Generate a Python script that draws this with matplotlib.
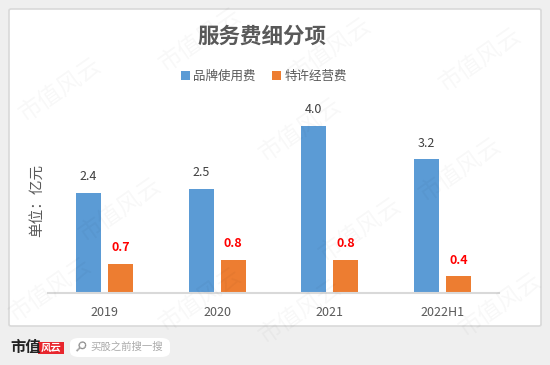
import matplotlib.pyplot as plt
from matplotlib.patches import FancyBboxPatch, Rectangle
import numpy as np

plt.rcParams['font.family'] = ['Noto Sans CJK SC', 'DejaVu Sans']

categories = ['2019', '2020', '2021', '2022H1']
brand_fee = [2.4, 2.5, 4.0, 3.2]
franchise_fee = [0.7, 0.8, 0.8, 0.4]
series_names = ['品牌使用费', '特许经营费']

W, H = 550, 365
fig = plt.figure(figsize=(W / 100, H / 100), dpi=100, facecolor='#efefef')


def fx(px):
    return px / W


def fy(py):
    return 1 - py / H


# white card
card = FancyBboxPatch((fx(9), fy(326)), fx(532), (317) / H,
                      boxstyle='round,pad=0,rounding_size=0.004',
                      transform=fig.transFigure, facecolor='white',
                      edgecolor='#d9d9d9', linewidth=1.2, zorder=-5)
fig.patches.append(card)

# plot area
ax = fig.add_axes([fx(48), fy(293), fx(451), (293 - 105) / H])
ax.set_facecolor('none')
ax.set_zorder(1)
x = np.arange(len(categories))
bw = 0.222
off = 0.142
b1 = ax.bar(x - off, brand_fee, bw, color='#5b9bd5', zorder=2)
b2 = ax.bar(x + off, franchise_fee, bw, color='#ed7d31', zorder=2)
ax.set_xlim(-0.5, len(categories) - 0.5)
ax.set_ylim(0, 4.5)
for s in ['top', 'right', 'left']:
    ax.spines[s].set_visible(False)
ax.spines['bottom'].set_color('#d9d9d9')
ax.spines['bottom'].set_linewidth(1.5)
ax.set_yticks([])
ax.set_xticks(x)
ax.set_xticklabels(categories, fontsize=9, color='#595959')
ax.tick_params(axis='x', length=0, pad=9)

for xi, v in zip(x, brand_fee):
    ax.annotate(f'{v:.1f}', (xi - off, v), xytext=(0, 7), textcoords='offset points',
                ha='center', va='bottom', fontsize=9, color='#404040')
for xi, v in zip(x, franchise_fee):
    ax.annotate(f'{v:.1f}', (xi + off, v), xytext=(0, 7), textcoords='offset points',
                ha='center', va='bottom', fontsize=9, color='#ff0000', fontweight='bold')

# title, unit label, legend
fig.text(fx(262), fy(36), '服务费细分项', ha='center', va='center',
         fontsize=15.5, fontweight='bold', color='#595959')
fig.text(fx(37), fy(200), '单位：亿元', ha='center', va='center', rotation=90,
         fontsize=10.5, color='#595959')

leg = fig.legend([b1, b2], series_names, loc='center', bbox_to_anchor=(fx(264), fy(76)),
                 ncol=2, frameon=False, fontsize=9, handlelength=0.7, handleheight=0.7,
                 handletextpad=0.3, columnspacing=1.3)
for t in leg.get_texts():
    t.set_color('#595959')

# watermark
for (wx, wy) in [(60, 90), (200, 40), (330, 50), (480, 60), (120, 210), (300, 130),
                 (460, 170), (50, 290), (200, 300), (360, 230), (500, 305), (300, 312)]:
    fig.text(fx(wx), fy(wy), '市值风云', ha='center', va='center', rotation=35,
             fontsize=17, color='#000000', alpha=0.03, zorder=10)

# footer
fig.text(fx(10), fy(347), '市值', ha='left', va='center', fontsize=11,
         fontweight='bold', color='#222222')
fig.patches.append(Rectangle((fx(38), fy(354)), fx(26), 12 / H, transform=fig.transFigure,
                             facecolor='#e8262d', edgecolor='none'))
fig.text(fx(51), fy(348), '风云', ha='center', va='center', fontsize=7.5,
         color='white', style='italic', fontweight='bold')
search = FancyBboxPatch((fx(70), fy(357)), fx(100), 19 / H,
                        boxstyle='round,pad=0,rounding_size=0.016',
                        transform=fig.transFigure, facecolor='white',
                        edgecolor='none')
fig.patches.append(search)
fig.text(fx(80), fy(347), '⚲', ha='center', va='center', fontsize=10,
         color='#888888', family=['DejaVu Sans'], rotation=-45)
fig.text(fx(90), fy(347), '买股之前搜一搜', ha='left', va='center', fontsize=7.5,
         color='#aaaaaa')

fig.savefig('out.png', dpi=100, facecolor=fig.get_facecolor())
